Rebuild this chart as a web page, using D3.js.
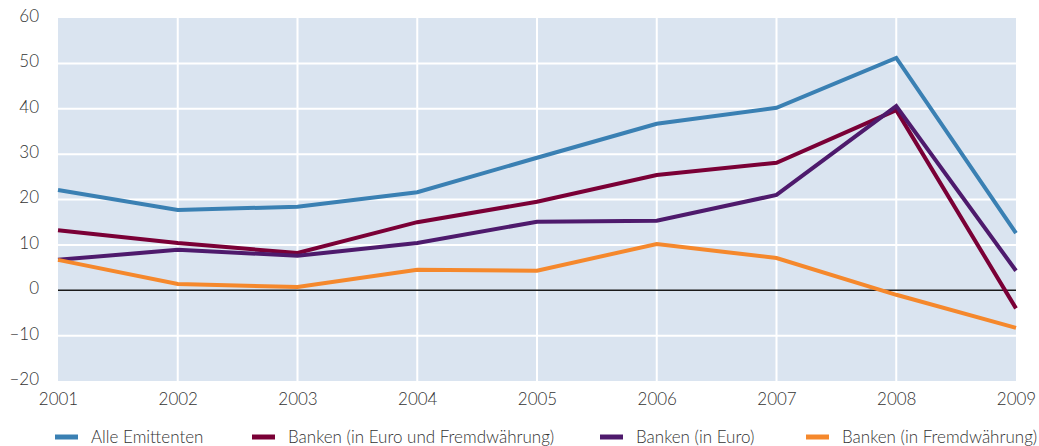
<!DOCTYPE html>
<html>
<head>
<meta charset="utf-8">
<script src="https://cdn.jsdelivr.net/npm/d3@7"></script>
<style>
  body { margin: 0; background: #fff; }
  svg text { font-family: Lato, "Open Sans", sans-serif; font-weight: 300; fill: #333; }
</style>
</head>
<body>
<svg id="chart"></svg>
<script>
// Data
const years = [2001, 2002, 2003, 2004, 2005, 2006, 2007, 2008, 2009];
const alleEmittenten = [22.1, 17.7, 18.4, 21.6, 29.2, 36.7, 40.2, 51.2, 12.6];
const bankenEuroFremd = [13.2, 10.4, 8.2, 15.0, 19.5, 25.4, 28.1, 39.7, -4.0];
const bankenEuro = [6.7, 8.9, 7.6, 10.4, 15.1, 15.3, 21.0, 40.6, 4.3];
const bankenFremd = [6.7, 1.4, 0.7, 4.5, 4.3, 10.2, 7.1, -1.0, -8.3];
const yTicks = [-20, -10, 0, 10, 20, 30, 40, 50, 60];

const series = [
  { name: "Alle Emittenten", values: alleEmittenten, color: "#3a80b3" },
  { name: "Banken (in Euro und Fremdwährung)", values: bankenEuroFremd, color: "#7a0036" },
  { name: "Banken (in Euro)", values: bankenEuro, color: "#4e1a6c" },
  { name: "Banken (in Fremdwährung)", values: bankenFremd, color: "#f5882c" }
];

// Chart dimensions
const W = 1039, H = 446;
const margin = { top: 18, right: 23, bottom: 65, left: 58 };
const width = W - margin.left - margin.right;
const height = H - margin.top - margin.bottom;

const svg = d3.select("#chart").attr("width", W).attr("height", H);
const g = svg.append("g").attr("transform", `translate(${margin.left},${margin.top})`);

const x = d3.scaleLinear().domain([2001, 2009]).range([0, width]);
const y = d3.scaleLinear().domain([-20, 60]).range([height, 0]);

// background
g.append("rect").attr("width", width).attr("height", height).attr("fill", "#dae4f0");

// grid lines
g.selectAll(".hgrid")
  .data(yTicks.filter((d) => d !== -20 && d !== 60 && d !== 0))
  .enter().append("line")
  .attr("x1", 0).attr("x2", width)
  .attr("y1", (d) => y(d)).attr("y2", (d) => y(d))
  .attr("stroke", "#fff").attr("stroke-width", 2);

g.selectAll(".vgrid")
  .data(years.slice(1, -1))
  .enter().append("line")
  .attr("y1", 0).attr("y2", height)
  .attr("x1", (d) => x(d)).attr("x2", (d) => x(d))
  .attr("stroke", "#fff").attr("stroke-width", 2);

// zero line
g.append("line")
  .attr("x1", 0).attr("x2", width)
  .attr("y1", y(0)).attr("y2", y(0))
  .attr("stroke", "#1a1a1a").attr("stroke-width", 1.5);

// axes (labels only)
const yAxis = g.append("g")
  .call(d3.axisLeft(y).tickValues(yTicks).tickSize(0).tickPadding(19)
    .tickFormat((d) => (d < 0 ? "\u2013" + Math.abs(d) : d)));
yAxis.select(".domain").remove();
yAxis.selectAll("text").style("font-size", "17px").attr("dy", "0.2em");

const xAxis = g.append("g").attr("transform", `translate(0,${height})`)
  .call(d3.axisBottom(x).tickValues(years).tickSize(0).tickPadding(12).tickFormat(d3.format("d")));
xAxis.select(".domain").remove();
xAxis.selectAll("text").style("font-size", "17px");

// lines
const line = d3.line()
  .x((d, i) => x(years[i]))
  .y((d) => y(d));

g.selectAll(".series")
  .data(series)
  .enter().append("path")
  .attr("d", (d) => line(d.values))
  .attr("fill", "none")
  .attr("stroke", (d) => d.color)
  .attr("stroke-width", 4);

// legend
const legendX = [55, 252, 600, 806];
const legend = svg.selectAll(".legend")
  .data(series)
  .enter().append("g")
  .attr("transform", (d, i) => `translate(${legendX[i]},437)`);

legend.append("line")
  .attr("x1", 0).attr("x2", 23)
  .attr("stroke", (d) => d.color).attr("stroke-width", 5);

legend.append("text")
  .attr("x", 36).attr("dy", "0.35em")
  .style("font-size", "17px")
  .text((d) => d.name);
</script>
</body>
</html>
